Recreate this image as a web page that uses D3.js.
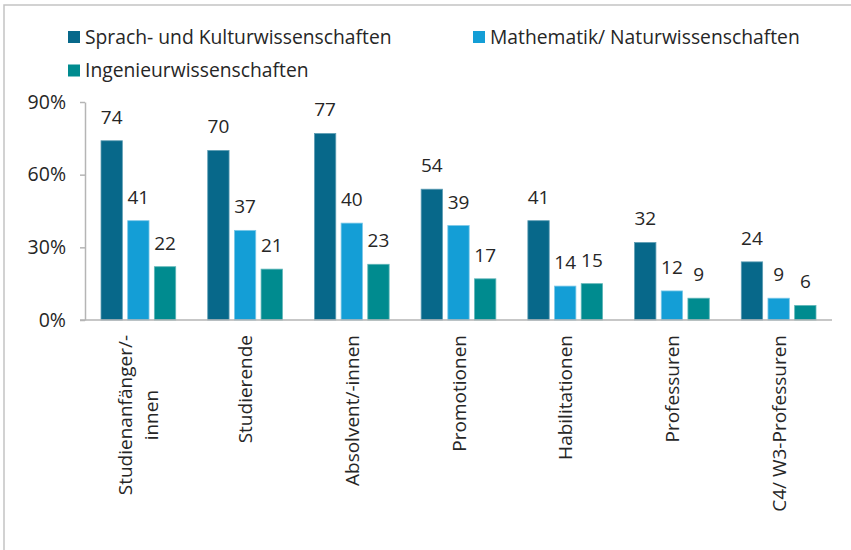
<!DOCTYPE html>
<html>
<head>
<meta charset="utf-8">
<script src="https://cdn.jsdelivr.net/npm/d3@7"></script>
<style>
  body { margin: 0; background: #fff; }
  text { font-family: "Open Sans", sans-serif; fill: #262626; }
</style>
</head>
<body>
<div id="plot"></div>
<script>
// categories (line breaks as in the original)
var categories = [
  ["Studienanfänger/-", "innen"],
  ["Studierende"],
  ["Absolvent/-innen"],
  ["Promotionen"],
  ["Habilitationen"],
  ["Professuren"],
  ["C4/ W3-Professuren"]
];
var seriesNames = ["Sprach- und Kulturwissenschaften", "Mathematik/ Naturwissenschaften", "Ingenieurwissenschaften"];
var sprachKultur = [74, 70, 77, 54, 41, 32, 24];
var matheNatur = [41, 37, 40, 39, 14, 12, 9];
var ingenieur = [22, 21, 23, 17, 15, 9, 6];
var yTicks = [0, 30, 60, 90];

var colors = ["#07688a", "#149ed6", "#008b8f"];
var edges = ["#5e9db4", "#7cc8e8", "#5fb6b8"];

var svgWidth = 851;
var svgHeight = 550;

var svg = d3.select("#plot")
  .append("svg")
  .attr("width", svgWidth)
  .attr("height", svgHeight);

// frame
svg.append("path")
  .attr("d", "M4,550 V5 H851")
  .attr("fill", "none")
  .attr("stroke", "#c3c3c3")
  .attr("stroke-width", 1.5);

var keys = categories.map(c => c.join(" "));
var series = [sprachKultur, matheNatur, ingenieur];

var xScale = d3.scaleBand()
  .domain(keys)
  .range([85, 832])
  .paddingInner(0.3)
  .paddingOuter(0.15);

var xInner = d3.scaleBand()
  .domain(d3.range(series.length))
  .range([0, xScale.bandwidth()])
  .paddingInner(0.2);

var yScale = d3.scaleLinear()
  .domain([0, 90])
  .range([320, 102]);

// y axis
var leftAxis = d3.axisLeft(yScale)
  .tickValues(yTicks)
  .tickFormat(d => d + "%")
  .tickSizeInner(5)
  .tickSizeOuter(0)
  .tickPadding(14);

var yAxis = svg.append("g")
  .attr("transform", "translate(85,0)")
  .call(leftAxis);
yAxis.selectAll("line, path").attr("stroke", "#b5b5b5").attr("stroke-width", 1.5);
yAxis.selectAll("text").attr("font-size", "19.5px").attr("font-family", null).attr("fill", "#262626");

// bars
series.forEach(function(vals, si) {
  var g = svg.append("g");
  g.selectAll("rect")
    .data(vals)
    .enter()
    .append("rect")
    .attr("x", (d, i) => xScale(keys[i]) + xInner(si))
    .attr("y", d => yScale(d))
    .attr("width", xInner.bandwidth())
    .attr("height", d => yScale(0) - yScale(d))
    .attr("fill", colors[si])
    .attr("stroke", edges[si])
    .attr("stroke-width", 0.8);

  g.selectAll("text")
    .data(vals)
    .enter()
    .append("text")
    .attr("x", (d, i) => xScale(keys[i]) + xInner(si) + xInner.bandwidth() / 2)
    .attr("y", d => yScale(d) - 17)
    .attr("text-anchor", "middle")
    .attr("font-size", "19px")
    .text(d => d);
});

// x axis baseline
svg.append("line")
  .attr("x1", 80)
  .attr("x2", 832)
  .attr("y1", yScale(0))
  .attr("y2", yScale(0))
  .attr("stroke", "#b5b5b5")
  .attr("stroke-width", 1.5);

// category labels, rotated
var lineGap = 26;
categories.forEach(function(lines, i) {
  var cx = xScale(keys[i]) + xScale.bandwidth() / 2;
  var g = svg.append("g");
  var texts = lines.map(function(l, j) {
    return g.append("text")
      .attr("font-size", "19px")
      .attr("text-anchor", "middle")
      .text(l);
  });
  var maxLen = d3.max(texts, t => t.node().getComputedTextLength());
  var yMid = 335 + maxLen / 2;
  texts.forEach(function(t, j) {
    var off = (j - (lines.length - 1) / 2) * lineGap;
    var x = cx + off + 7;
    t.attr("transform", "translate(" + x + "," + yMid + ") rotate(-90)");
  });
});

// legend
var legendItems = [
  { x: 68, y: 37, name: seriesNames[0], color: colors[0] },
  { x: 473, y: 37, name: seriesNames[1], color: colors[1] },
  { x: 68, y: 70.5, name: seriesNames[2], color: colors[2] }
];
var legend = svg.append("g");
legendItems.forEach(function(item) {
  legend.append("rect")
    .attr("x", item.x)
    .attr("y", item.y - 6)
    .attr("width", 12)
    .attr("height", 12)
    .attr("fill", item.color);
  legend.append("text")
    .attr("x", item.x + 17)
    .attr("y", item.y)
    .attr("dy", "0.35em")
    .attr("font-size", "19.3px")
    .text(item.name);
});
</script>
</body>
</html>
